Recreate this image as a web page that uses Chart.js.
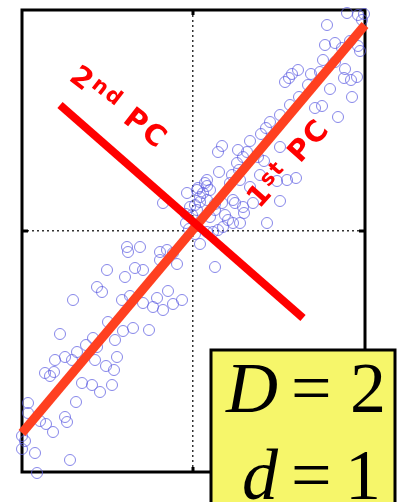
<!DOCTYPE html>
<html><head><meta charset="utf-8">
<script src="https://cdn.jsdelivr.net/npm/chart.js@4.4.0/dist/chart.umd.min.js"></script>
<style>html,body{margin:0;padding:0;background:#fff;}#wrap{width:399px;height:502px;}</style>
</head><body><div id="wrap"><canvas id="c" width="399" height="502"></canvas></div>
<script>
// Sample points (arbitrary units, origin at the dotted cross-hair)
const sampleX = [-1.48,-1.43,-1.39,-1.38,-1.28,-1.21,-0.87,-0.79,-1.11,-1.01,-0.93,-0.81,-1.17,-1.65,-1.65,-1.53,-1.47,-1.28,-1.26,-1.40,-1.68,-1.71,-1.58,-1.23,-1.56,-1.71,
-0.65,-0.33,-0.26,-0.66,-0.53,-0.16,-0.86,-0.68,-0.58,-0.50,-0.96,-0.91,-1.20,-0.71,-0.63,-0.50,-0.40,-0.36,-0.30,-0.20,-0.11,-0.25,-0.85,-1.33,-0.70,-0.60,-0.44,-0.78,-1.00,-1.07,-0.96,-1.16,-0.98,-0.76,0.22,-0.33,-0.20,
-0.30,-0.06,-0.03,0.02,0.07,0.05,0.12,0.04,-0.01,-0.07,-0.07,-0.04,0.02,0.07,0.14,0.20,0.25,0.30,0.17,0.22,0.22,0.29,0.42,0.51,0.32,0.35,0.40,0.47,0.60,0.74,0.87,0.07,0.14,0.40,0.50,
0.87,0.77,0.73,0.68,0.57,0.45,0.29,0.25,0.54,0.44,0.50,0.65,0.71,0.87,0.26,0.39,0.46,0.67,0.14,0.14,0.04,0.10,0.37,0.47,0.57,0.84,0.94,1.03,0.17,
1.54,1.65,1.71,1.69,1.34,1.32,1.42,1.49,1.57,1.65,1.67,1.30,1.42,1.05,0.99,0.96,0.92,1.18,1.27,1.15,1.52,1.51,1.58,1.64,1.37,1.59,1.06,0.97,1.29,1.22,1.45];
const sampleY = [-1.42,-1.45,-1.41,-1.29,-1.26,-1.29,-1.35,-1.39,-1.52,-1.54,-1.61,-1.54,-1.71,-1.72,-1.82,-1.90,-1.93,-1.86,-1.91,-2.01,-2.10,-2.18,-2.22,-2.29,-2.42,-2.05,
-0.21,-0.21,-0.19,-0.16,-0.16,-0.33,-0.39,-0.46,-0.37,-0.39,-0.56,-0.61,-0.69,-0.69,-0.65,-0.72,-0.76,-0.67,-0.79,-0.73,-0.69,-0.60,-0.91,-1.03,-1.00,-0.97,-0.99,-1.09,-1.07,-1.14,-1.16,-1.21,-1.29,-1.26,-0.36,-0.29,-0.22,
0.28,0.38,0.24,0.26,0.29,0.43,0.48,0.21,0.16,0.17,0.08,0.02,-0.03,-0.13,-0.01,-0.01,0.01,0.04,0.14,0.21,0.27,0.28,0.28,0.18,0.16,0.11,0.08,0.08,0.28,0.08,0.30,0.34,0.31,0.31,0.24,
1.16,1.09,1.03,0.97,0.90,0.81,0.85,0.79,0.79,0.68,0.74,0.74,0.70,0.84,0.59,0.56,0.61,0.56,0.51,0.45,0.41,0.38,0.48,0.51,0.44,0.50,0.51,0.53,0.41,
2.18,2.16,2.17,2.11,2.06,1.86,1.88,1.83,1.90,1.85,1.80,1.71,1.69,1.61,1.57,1.53,1.49,1.57,1.59,1.46,1.62,1.53,1.51,1.54,1.42,1.34,1.34,1.26,1.25,1.23,1.14];
// Principal component directions (segment end points)
const pc1X = [-1.71, 1.72];
const pc1Y = [-2.02, 2.06];
const pc2X = [-1.33, 1.10];
const pc2Y = [1.26, -0.87];
// Axis extents
const xRange = [-1.71, 1.72];
const yRange = [-2.41, 2.21];
// Texts
const pcLabels = [['2', 'nd', ' PC'], ['1', 'st', ' PC']];
const boxLines = [['D', '=', '2'], ['d', '=', '1']];

const pts = (xa, ya) => xa.map((x, i) => ({x, y: ya[i]}));

const framePlugin = {
  id: 'frame',
  beforeDatasetsDraw(chart) {
    const {ctx, chartArea: a} = chart;
    ctx.save();
    ctx.strokeStyle = '#000';
    ctx.lineWidth = 3;
    ctx.strokeRect(a.left, a.top, a.right - a.left, a.bottom - a.top);
    const x0 = chart.scales.x.getPixelForValue(0), y0 = chart.scales.y.getPixelForValue(0);
    ctx.beginPath();
    ctx.moveTo(x0, a.top); ctx.lineTo(x0, a.top + 5);
    ctx.moveTo(x0, a.bottom); ctx.lineTo(x0, a.bottom - 5);
    ctx.moveTo(a.left, y0); ctx.lineTo(a.left + 6, y0);
    ctx.moveTo(a.right, y0); ctx.lineTo(a.right - 6, y0);
    ctx.stroke();
    ctx.restore();
  }
};

function drawLabel(ctx, parts, cx, cy, ang) {
  ctx.save();
  ctx.translate(cx, cy);
  ctx.rotate(ang * Math.PI / 180);
  ctx.fillStyle = '#ff0000';
  ctx.textBaseline = 'alphabetic';
  ctx.letterSpacing = '2px';
  const big = 'bold 29px "DejaVu Sans"', small = 'bold 21px "DejaVu Sans"';
  ctx.font = big; const w0 = ctx.measureText(parts[0]).width;
  ctx.font = small; const w1 = ctx.measureText(parts[1]).width;
  ctx.font = big; const w2 = ctx.measureText(parts[2]).width;
  let x = -(w0 + w1 + w2) / 2;
  const base = 11;
  ctx.font = big; ctx.fillText(parts[0], x, base); x += w0;
  ctx.font = small; ctx.fillText(parts[1], x, base - 8); x += w1;
  ctx.font = big; ctx.fillText(parts[2], x, base);
  ctx.restore();
}

const annoPlugin = {
  id: 'anno',
  afterDraw(chart) {
    const ctx = chart.ctx;
    drawLabel(ctx, pcLabels[0], 120, 106, 38);
    drawLabel(ctx, pcLabels[1], 287, 162, -48);
    // yellow box
    ctx.save();
    ctx.fillStyle = '#f6f66a';
    ctx.strokeStyle = '#000';
    ctx.lineWidth = 3;
    ctx.fillRect(211, 350, 184, 160);
    ctx.strokeRect(211, 350, 184, 160);
    ctx.fillStyle = '#000';
    ctx.textBaseline = 'alphabetic';
    const rows = [[226, 291, 350, 412], [242, 291, 345, 499]];
    boxLines.forEach((ln, i) => {
      const [xa, xb, xc, y] = rows[i];
      ctx.font = 'italic 72px "Liberation Serif"';
      ctx.fillText(ln[0], xa, y);
      ctx.font = '72px "Liberation Serif"';
      ctx.fillText(ln[1], xb, y);
      ctx.fillText(ln[2], xc, y);
    });
    ctx.restore();
  }
};

new Chart(document.getElementById('c'), {
  type: 'scatter',
  data: {
    datasets: [
      {label: '2nd PC', data: pts(pc2X, pc2Y), showLine: true, borderColor: '#ff0000', backgroundColor: '#ff0000',
       borderWidth: 8, pointRadius: 0, borderCapStyle: 'butt', clip: false},
      {label: '1st PC', data: pts(pc1X, pc1Y), showLine: true, borderColor: '#ff4020', backgroundColor: '#ff4020',
       borderWidth: 9, pointRadius: 0, borderCapStyle: 'butt', clip: false},
      {label: 'samples', data: pts(sampleX, sampleY), pointRadius: 5.5, pointBorderWidth: 1,
       borderColor: 'rgba(95,95,225,0.75)', backgroundColor: 'rgba(0,0,0,0)', clip: false}
    ]
  },
  options: {
    responsive: false,
    animation: false,
    events: [],
    layout: {padding: {left: 22, top: 10, right: 34, bottom: 30}},
    plugins: {legend: {display: false}, tooltip: {enabled: false}},
    scales: {
      x: {type: 'linear', min: xRange[0], max: xRange[1],
          afterBuildTicks: s => { s.ticks = [{value: 0}]; },
          ticks: {display: false},
          grid: {drawTicks: false, color: '#333', lineWidth: 1.5},
          border: {display: false, dash: [2, 3]},
          afterFit: s => { s.height = 0; }},
      y: {type: 'linear', min: yRange[0], max: yRange[1],
          afterBuildTicks: s => { s.ticks = [{value: 0}]; },
          ticks: {display: false},
          grid: {drawTicks: false, color: '#333', lineWidth: 1.5},
          border: {display: false, dash: [2, 3]},
          afterFit: s => { s.width = 0; }}
    }
  },
  plugins: [framePlugin, annoPlugin]
});
</script>
</body></html>
